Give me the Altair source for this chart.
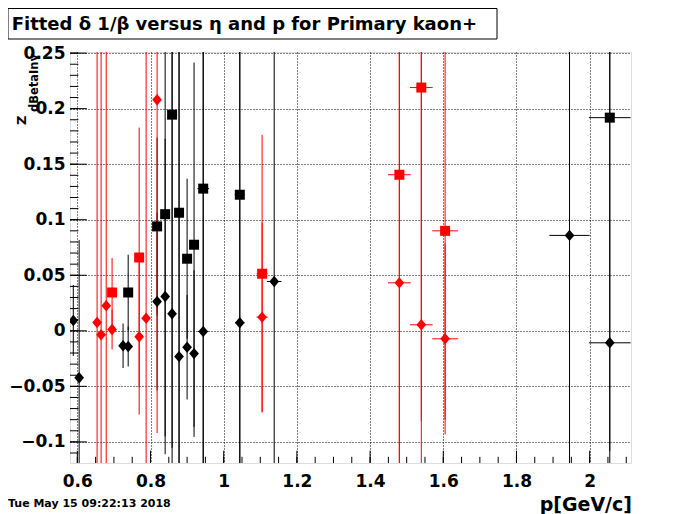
import altair as alt
import pandas as pd
import numpy as np

# ---------------- data ----------------
# black diamonds
bd_p = [0.589, 0.605, 0.725, 0.739, 0.818, 0.840, 0.859, 0.878, 0.900, 0.919, 0.944, 1.044, 1.138, 1.945, 2.055]
bd_z = [0.0093, -0.0423, -0.0135, -0.0141, 0.0264, 0.0309, 0.0153, -0.0232, -0.0148, -0.0205, -0.0006, 0.0072, 0.0444, 0.0859, -0.0108]
bd_ez = [0.032, 0.124, 0.020, 0.018, 0.08, 0.142, 0.30, 0.30, 0.047, 0.075, 0.30, 0.30, 0.30, 0.30, 0.30]
bd_ep = [0.005, 0.005, 0.006, 0.006, 0.007, 0.008, 0.008, 0.009, 0.009, 0.010, 0.014, 0.013, 0.020, 0.055, 0.057]

# black squares
bs_p = [0.739, 0.818, 0.840, 0.859, 0.878, 0.900, 0.919, 0.944, 1.044, 2.055]
bs_z = [0.0345, 0.094, 0.105, 0.1946, 0.1063, 0.0649, 0.0775, 0.128, 0.1225, 0.1919]
bs_ez = [0.034, 0.08, 0.20, 0.30, 0.30, 0.072, 0.164, 0.30, 0.30, 0.30]
bs_ep = [0.006, 0.007, 0.008, 0.008, 0.009, 0.009, 0.010, 0.016, 0.014, 0.057]

# red diamonds
rd_p = [0.654, 0.665, 0.679, 0.695, 0.769, 0.788, 0.818, 1.105, 1.480, 1.540, 1.605]
rd_z = [0.0075, -0.0036, 0.0225, 0.0012, -0.0054, 0.0114, 0.208, 0.0123, 0.0432, 0.0054, -0.0072]
rd_ez = [0.3, 0.3, 0.3, 0.018, 0.070, 0.3, 0.3, 0.085, 0.3, 0.3, 0.086]
rd_ep = [0.005, 0.005, 0.005, 0.006, 0.007, 0.007, 0.008, 0.015, 0.031, 0.031, 0.035]

# red squares
rs_p = [0.695, 0.769, 1.105, 1.480, 1.540, 1.605]
rs_z = [0.0345, 0.066, 0.0514, 0.1405, 0.219, 0.090]
rs_ez = [0.031, 0.117, 0.125, 0.3, 0.3, 0.17]
rs_ep = [0.006, 0.007, 0.015, 0.031, 0.031, 0.035]

x_ticks = [0.6, 0.8, 1.0, 1.2, 1.4, 1.6, 1.8, 2.0]
y_ticks = [-0.1, -0.05, 0, 0.05, 0.1, 0.15, 0.2, 0.25]

title_text = "Fitted \u03b4 1/\u03b2 versus \u03b7 and p for Primary kaon+"
x_title = "p[GeV/c]"
y_title = "Z"
y_sub = "dBetaInv"
date_text = "Tue May 15 09:22:13 2018"

# ---------------- build table ----------------
rows = []
for P, Z, EZ, EP, col, shp in [
    (bd_p, bd_z, bd_ez, bd_ep, "black", "diamond"),
    (bs_p, bs_z, bs_ez, bs_ep, "black", "square"),
    (rd_p, rd_z, rd_ez, rd_ep, "red", "diamond"),
    (rs_p, rs_z, rs_ez, rs_ep, "red", "square"),
]:
    for p, z, ez, ep in zip(P, Z, EZ, EP):
        rows.append(dict(p=p, z=z, lo=z - ez, hi=z + ez, plo=p - ep, phi=p + ep, col=col, shp=shp))
df = pd.DataFrame(rows)

W, H = 561, 411
xs = alt.Scale(domain=[0.58, 2.113], nice=False, zero=False)
ys = alt.Scale(domain=[-0.119, 0.251], nice=False, zero=False)
cs = alt.Scale(domain=["black", "red"], range=["#000000", "#ff0000"])

FONT = "DejaVu Sans"
xaxis = alt.Axis(values=x_ticks, format="~g", title=None, ticks=False, domain=False,
                 grid=True, gridDash=[1, 2], gridColor="black", gridOpacity=1, gridWidth=1,
                 labelFont=FONT, labelFontWeight="bold", labelFontSize=17, labelColor="black",
                 labelPadding=10, labelFlush=False, labelOverlap=False)
yaxis = alt.Axis(values=y_ticks, format="~g", title=None, ticks=False, domain=False,
                 grid=True, gridDash=[1, 2], gridColor="black", gridOpacity=1, gridWidth=1,
                 labelFont=FONT, labelFontWeight="bold", labelFontSize=17, labelColor="black",
                 labelPadding=5, labelFlush=False, labelOverlap=False)

base = alt.Chart(df)

verr = base.mark_rule(clip=True, strokeWidth=1).encode(
    x=alt.X("p:Q", scale=xs, axis=xaxis),
    y=alt.Y("lo:Q", scale=ys, axis=yaxis),
    y2="hi:Q",
    color=alt.Color("col:N", scale=cs, legend=None),
)
herr = base.mark_rule(clip=True, strokeWidth=1).encode(
    x=alt.X("plo:Q", scale=xs, axis=xaxis),
    x2="phi:Q",
    y=alt.Y("z:Q", scale=ys, axis=yaxis),
    color=alt.Color("col:N", scale=cs, legend=None),
)
DIAMOND = "M0,-1L0.85,0L0,1L-0.85,0Z"
diam = base.transform_filter(alt.datum.shp == "diamond").mark_point(
    filled=True, opacity=1, strokeWidth=0, shape=DIAMOND, size=130, clip=True
).encode(
    x=alt.X("p:Q", scale=xs, axis=xaxis),
    y=alt.Y("z:Q", scale=ys, axis=yaxis),
    color=alt.Color("col:N", scale=cs, legend=None),
)
squ = base.transform_filter(alt.datum.shp == "square").mark_point(
    filled=True, opacity=1, strokeWidth=0, shape="square", size=100, clip=True
).encode(
    x=alt.X("p:Q", scale=xs, axis=xaxis),
    y=alt.Y("z:Q", scale=ys, axis=yaxis),
    color=alt.Color("col:N", scale=cs, legend=None),
)

# inward tick marks (ROOT style)
xminor = pd.DataFrame({"v": np.round(np.arange(0.6, 2.1001, 0.05), 3)})
xmajor = pd.DataFrame({"v": x_ticks})
yminor = pd.DataFrame({"v": np.round(np.arange(-0.11, 0.2501, 0.01), 3)})
ymajor = pd.DataFrame({"v": y_ticks})

def xt(d, L):
    return alt.Chart(d).mark_rule(color="black", strokeWidth=1).encode(
        x=alt.X("v:Q", scale=xs, axis=xaxis), y=alt.value(H), y2=alt.value(H - L))

def yt(d, L):
    return alt.Chart(d).mark_rule(color="black", strokeWidth=1).encode(
        y=alt.Y("v:Q", scale=ys, axis=yaxis), x=alt.value(0), x2=alt.value(L))

ticks = [xt(xminor, 6.2), xt(xmajor, 12.3), yt(yminor, 8.4), yt(ymajor, 16.8)]

# texts
tdf = pd.DataFrame({"t": [title_text]})
box = alt.Chart(tdf).mark_rect(fill="white", stroke="black", strokeWidth=1).encode(
    x=alt.value(-62), x2=alt.value(427), y=alt.value(-43.5), y2=alt.value(-13))
ttl = alt.Chart(tdf).mark_text(align="left", baseline="alphabetic", font=FONT, fontWeight="bold",
                               fontSize=18, color="black").encode(
    x=alt.value(-58.3), y=alt.value(-22), text="t:N")
xt_lbl = alt.Chart(pd.DataFrame({"t": [x_title]})).mark_text(
    align="right", baseline="alphabetic", font=FONT, fontWeight="bold", fontSize=19, color="black"
).encode(x=alt.value(W + 1), y=alt.value(459), text="t:N")
date_lbl = alt.Chart(pd.DataFrame({"t": [date_text]})).mark_text(
    align="left", baseline="alphabetic", font=FONT, fontWeight="bold", fontSize=11, color="black"
).encode(x=alt.value(-62), y=alt.value(455), text="t:N")
yz = alt.Chart(pd.DataFrame({"t": [y_title]})).mark_text(
    align="left", baseline="middle", angle=270, font=FONT, fontWeight="bold", fontSize=13, color="black"
).encode(x=alt.value(-48), y=alt.value(73), text="t:N")
ysub = alt.Chart(pd.DataFrame({"t": [y_sub]})).mark_text(
    align="left", baseline="middle", angle=270, font=FONT, fontWeight="bold", fontSize=11.5, color="black"
).encode(x=alt.value(-35.5), y=alt.value(60), text="t:N")

chart = alt.layer(verr, herr, diam, squ, *ticks, box, ttl, xt_lbl, date_lbl, yz, ysub).properties(
    width=W, height=H,
    autosize=alt.AutoSizeParams(type="none"),
    padding={"left": 62, "top": 44, "right": 50, "bottom": 54},
).configure_view(stroke="black", strokeWidth=1).configure(background="white")

chart.save("out.html", embed_options={"renderer": "svg", "actions": False})
